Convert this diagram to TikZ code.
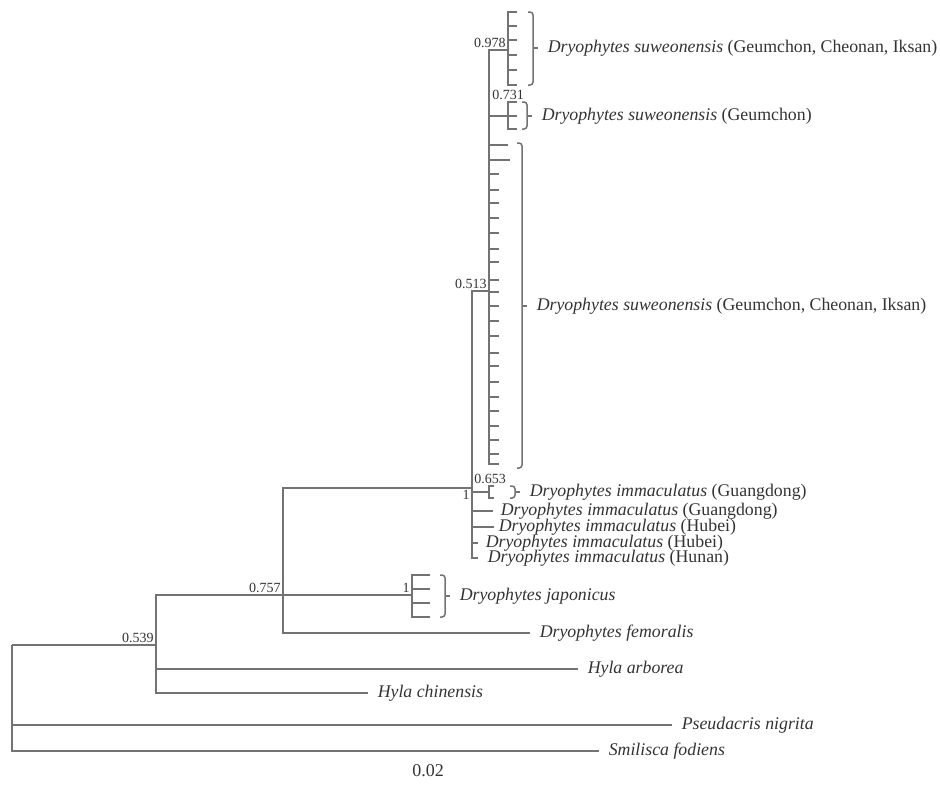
\documentclass[tikz,border=0pt]{standalone}
\usepackage{fontspec}
\setmainfont{Liberation Serif}
\usepackage{tikz}

\begin{document}
\begin{tikzpicture}[x=0.5pt, y=-0.5pt,
  branch/.style={draw=black!55, line width=0.75pt},
  brace/.style={draw=black!55, line width=0.75pt, rounded corners=1.5pt},
  taxon/.style={anchor=west, inner sep=4.5pt, text=black!80, font=\fontsize{8.9}{10}\selectfont},
  supp/.style={inner sep=1pt, text=black!80, font=\fontsize{7}{8}\selectfont}]

  \useasboundingbox (0,0) rectangle (940,787);

  % internal nodes
  \coordinate (R) at (12,645);
  \coordinate (N539) at (156,645);
  \coordinate (N757) at (283,595);
  \coordinate (N1) at (472,488);
  \coordinate (NJ) at (412,595);
  \coordinate (N513) at (489,291);
  \coordinate (N653) at (489,492);
  \coordinate (N978) at (508,50);
  \coordinate (N731) at (508,116);

  % leaves
  \coordinate (Fem) at (530,633);
  \coordinate (Harb) at (578,669);
  \coordinate (Hchi) at (368,693);
  \coordinate (Pse) at (672,725);
  \coordinate (Smi) at (599,751);
  \coordinate (Im2) at (493,511);
  \coordinate (Im3) at (494,527);
  \coordinate (Im4) at (478,543);
  \coordinate (Im5) at (478,558);

  \draw [branch] (R) |- (N539);
  \draw [branch] (R) |- (Pse) node [taxon] (pseT) {\textit{Pseudacris nigrita}};
  \draw [branch] (R) |- (Smi) node [taxon] (smiT) {\textit{Smilisca fodiens}};

  \draw [branch] (N539) |- (N757);
  \draw [branch] (N539) |- (Harb) node [taxon] (harbT) {\textit{Hyla arborea}};
  \draw [branch] (N539) |- (Hchi) node [taxon] (hchiT) {\textit{Hyla chinensis}};

  \draw [branch] (N757) |- (N1);
  \draw [branch] (N757) -- (NJ);
  \draw [branch] (N757) |- (Fem) node [taxon] (femT) {\textit{Dryophytes femoralis}};

  \draw [branch] (N1) |- (N513);
  \draw [branch] (N1) |- (N653);
  \draw [branch] (N1) |- (Im2) node [taxon, xshift=-1pt] (im2T) {\textit{Dryophytes immaculatus} (Guangdong)};
  \draw [branch] (N1) |- (Im3) node [taxon, xshift=-2.5pt] (im3T) {\textit{Dryophytes immaculatus} (Hubei)};
  \draw [branch] (N1) |- (Im4) node [taxon, xshift=-1pt] (im4T) {\textit{Dryophytes immaculatus} (Hubei)};
  \draw [branch] (N1) |- (Im5) node [taxon] (im5T) {\textit{Dryophytes immaculatus} (Hunan)};

  \draw [branch] (N513) |- (N978);
  \draw [branch] (N513) |- (N731);

  % short terminal branches
  \foreach \y in {12,26,40,55,70,85}
    \draw [branch] (N978) |- (517,\y);
  \foreach \y in {102,116,129}
    \draw [branch] (N731) |- (517,\y);
  \draw [branch] (N513) |- (508,145);
  \draw [branch] (N513) |- (510,160);
  \foreach \y in {174,190,203,218,233,249,262,280,292,306,321,336,353,366,382,397,411,426,440,454,464}
    \draw [branch] (N513) |- (499,\y);
  \foreach \y in {486,498}
    \draw [branch] (N653) |- (494,\y);
  \foreach \y in {575,589,603,617}
    \draw [branch] (NJ) |- (430,\y);

  % brackets
  \coordinate (B978t) at (533,12);
  \coordinate (B978b) at (533,85);
  \coordinate (B978m) at (533,48);
  \coordinate (B731t) at (527,102);
  \coordinate (B731b) at (527,129);
  \coordinate (B731m) at (527,116);
  \coordinate (B513t) at (522,143);
  \coordinate (B513b) at (522,468);
  \coordinate (B513m) at (522,306);
  \coordinate (B653t) at (515,486);
  \coordinate (B653b) at (515,498);
  \coordinate (B653m) at (515,492);
  \coordinate (BJt) at (445,575);
  \coordinate (BJb) at (445,617);
  \coordinate (BJm) at (445,596);

  \draw [brace] (B978t) ++(-5,0) -- (B978t) -- (B978b) -- ++(-5,0);
  \draw [brace] (B978m) -- ++(5,0) node [taxon] (t978) {\textit{Dryophytes suweonensis} (Geumchon, Cheonan, Iksan)};
  \draw [brace] (B731t) ++(-5,0) -- (B731t) -- (B731b) -- ++(-5,0);
  \draw [brace] (B731m) -- ++(5,0) node [taxon] (t731) {\textit{Dryophytes suweonensis} (Geumchon)};
  \draw [brace] (B513t) ++(-5,0) -- (B513t) -- (B513b) -- ++(-5,0);
  \draw [brace] (B513m) -- ++(5,0) node [taxon] (t513) {\textit{Dryophytes suweonensis} (Geumchon, Cheonan, Iksan)};
  \draw [brace] (B653t) ++(-5,0) -- (B653t) -- (B653b) -- ++(-5,0);
  \draw [brace] (B653m) -- ++(5,0) node [taxon] (t653) {\textit{Dryophytes immaculatus} (Guangdong)};
  \draw [brace] (BJt) ++(-5,0) -- (BJt) -- (BJb) -- ++(-5,0);
  \draw [brace] (BJm) -- ++(5,0) node [taxon] (tJ) {\textit{Dryophytes japonicus}};

  % support values
  \node [supp, above left] (s539) at (N539) {0.539};
  \node [supp, above left] (s757) at (N757) {0.757};
  \node [supp, above left] (sJ) at (NJ) {1};
  \node [supp, below left] (s1) at (N1) {1};
  \node [supp, anchor=south west, inner sep=0pt] (s653) at (474,484) {0.653};
  \node [supp, above left] (s513) at (N513) {0.513};
  \node [supp, above] (s731) at (508,102) {0.731};
  \node [supp, above left] (s978) at (N978) {0.978};

  \node [supp, font=\fontsize{9}{10}\selectfont] (scale) at (428,771) {0.02};

\end{tikzpicture}
\end{document}
